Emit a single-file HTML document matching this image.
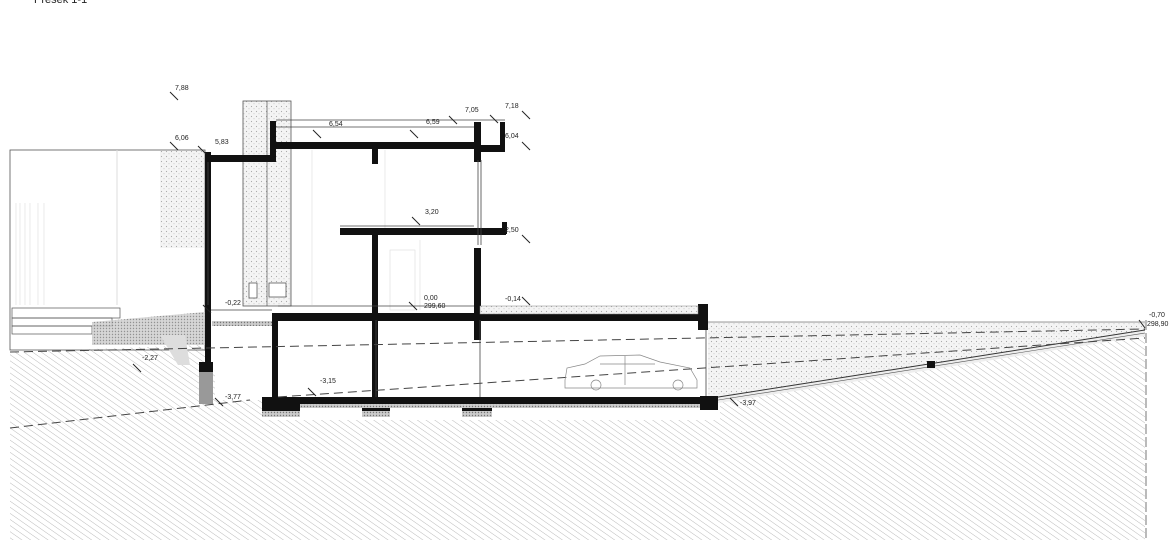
<!DOCTYPE html>
<html><head><meta charset="utf-8"><style>
html,body{margin:0;padding:0;background:#fff;}
svg{display:block;font-family:"Liberation Sans",sans-serif;}
text{font-size:7px;fill:#222;}
</style></head><body>
<svg width="1170" height="540" viewBox="0 0 1170 540" xmlns="http://www.w3.org/2000/svg">
<defs>
<pattern id="h" width="5" height="5" patternUnits="userSpaceOnUse" patternTransform="rotate(-55)">
<line x1="0" y1="0" x2="0" y2="5" stroke="#aaa" stroke-width="0.8"/>
</pattern>
<pattern id="d" width="5" height="5" patternUnits="userSpaceOnUse">
<rect width="5" height="5" fill="#f4f4f4"/>
<circle cx="1.5" cy="1.5" r="0.6" fill="#aaa"/><circle cx="4" cy="3.8" r="0.5" fill="#bbb"/>
</pattern>
<pattern id="g" width="3" height="3" patternUnits="userSpaceOnUse">
<rect width="3" height="3" fill="#ccc"/><circle cx="1.5" cy="1.5" r="0.7" fill="#777"/>
</pattern>
</defs>
<text x="34" y="3" style="font-size:11px">Presek 1-1</text>

<!-- ground hatch -->
<polygon points="10,352 205,345 205,370 215,370 215,400 262,400 262,420 720,420 720,400 1145,330 1145,540 10,540" fill="url(#h)"/>
<!-- fill in front of garage -->
<polygon points="708,322 1145,322 1145,332 712,398 708,398" fill="url(#d)"/>
<polygon points="712,398 1145,330 1145,336 712,404" fill="#eee"/>
<line x1="712" y1="398" x2="1145" y2="330" stroke="#333" stroke-width="1"/>
<line x1="712" y1="401" x2="1145" y2="333" stroke="#555" stroke-width="0.6"/>
<line x1="708" y1="322" x2="1145" y2="322" stroke="#777" stroke-width="0.8"/>
<rect x="927" y="361" width="8" height="7" fill="#111"/>

<!-- left site -->
<rect x="10" y="150" width="195" height="200" fill="none" stroke="#555" stroke-width="0.8"/>
<rect x="160" y="151" width="44" height="97" fill="url(#d)"/>
<line x1="117" y1="150" x2="117" y2="305" stroke="#ddd"/>
<g stroke="#ddd" stroke-width="0.6"><line x1="16" y1="203" x2="16" y2="305"/><line x1="20" y1="203" x2="20" y2="305"/><line x1="25" y1="203" x2="25" y2="305"/><line x1="30" y1="203" x2="30" y2="305"/><line x1="38" y1="203" x2="38" y2="305"/><line x1="44" y1="203" x2="44" y2="305"/></g>
<g fill="none" stroke="#555" stroke-width="0.7">
<rect x="12" y="308" width="108" height="10"/><rect x="12" y="318" width="100" height="8"/><rect x="12" y="326" width="80" height="8"/>
</g>
<polygon points="92,322 205,312 205,345 92,345" fill="url(#g)" opacity="0.8"/>
<polygon points="160,335 185,335 190,365 178,365" fill="#ddd"/>
<rect x="199" y="362" width="14" height="10" fill="#111"/>
<rect x="199" y="372" width="14" height="32" fill="#999"/>

<!-- chimney -->
<rect x="243" y="101" width="48" height="205" fill="url(#d)" stroke="#555" stroke-width="0.8"/>
<line x1="267" y1="101" x2="267" y2="306" stroke="#555" stroke-width="0.7"/>
<rect x="249" y="283" width="8" height="15" fill="#fff" stroke="#444" stroke-width="0.7"/>
<rect x="269" y="283" width="17" height="14" fill="#fff" stroke="#444" stroke-width="0.7"/>

<!-- interior light lines -->
<g stroke="#ddd" stroke-width="0.6" fill="none">
<line x1="290" y1="160" x2="290" y2="305"/><line x1="312" y1="150" x2="312" y2="305"/><line x1="420" y1="240" x2="420" y2="310"/>
<line x1="385" y1="150" x2="385" y2="228"/><rect x="390" y="250" width="25" height="60"/>
</g>

<!-- structure black -->
<g fill="#111">
<rect x="205" y="152" width="6" height="218"/>
<rect x="205" y="155" width="70" height="7"/>
<rect x="270" y="121" width="6" height="41"/>
<rect x="276" y="142" width="202" height="7"/>
<rect x="372" y="148" width="6" height="16"/>
<rect x="474" y="122" width="7" height="40"/>
<rect x="500" y="122" width="5" height="30"/>
<rect x="474" y="145" width="31" height="7"/>
<rect x="340" y="228" width="166" height="7"/>
<rect x="502" y="222" width="5" height="12"/>
<rect x="372" y="234" width="6" height="166"/>
<rect x="474" y="248" width="7" height="92"/>
<rect x="272" y="313" width="436" height="8"/>
<rect x="272" y="313" width="6" height="90"/>
<rect x="698" y="304" width="10" height="26"/>
<rect x="262" y="397" width="440" height="7"/>
<rect x="262" y="397" width="38" height="14"/>
<rect x="362" y="397" width="28" height="14"/>
<rect x="462" y="397" width="30" height="14"/>
<rect x="700" y="396" width="18" height="14"/>
</g>
<rect x="262" y="411" width="38" height="6" fill="url(#g)"/>
<rect x="362" y="411" width="28" height="6" fill="url(#g)"/>
<rect x="462" y="411" width="30" height="6" fill="url(#g)"/>
<rect x="300" y="404" width="400" height="4" fill="url(#g)"/>
<rect x="212" y="321" width="60" height="5" fill="url(#g)"/>
<rect x="480" y="306" width="218" height="8" fill="url(#d)" stroke="#888" stroke-width="0.5"/>
<g stroke="#444" stroke-width="0.8" fill="none">
<line x1="276" y1="120" x2="505" y2="120"/><line x1="276" y1="127" x2="474" y2="127"/>
<line x1="211" y1="310" x2="272" y2="310"/><line x1="278" y1="306" x2="474" y2="306"/>
<line x1="340" y1="226" x2="474" y2="226"/>
<line x1="478" y1="160" x2="478" y2="245"/><line x1="481" y1="160" x2="481" y2="245"/>
<line x1="208" y1="162" x2="208" y2="305"/>
<line x1="706" y1="330" x2="706" y2="396"/>
<line x1="376" y1="320" x2="376" y2="397"/><line x1="480" y1="320" x2="480" y2="397"/>
</g>

<!-- dashed lines -->
<g stroke="#444" stroke-width="1" stroke-dasharray="9,5" fill="none">
<line x1="10" y1="352" x2="1145" y2="329"/>
<line x1="10" y1="428" x2="250" y2="400"/>
<line x1="278" y1="397" x2="1145" y2="338"/>
</g>
<line x1="1146" y1="320" x2="1146" y2="540" stroke="#555" stroke-dasharray="10,3" stroke-width="0.8"/>

<!-- car -->
<g stroke="#888" stroke-width="0.7" fill="none">
<path d="M565,380 L567,368 L585,364 L600,356 L640,355 L660,362 L690,368 L697,380 L697,388 L565,388 Z"/>
<circle cx="596" cy="385" r="5"/><circle cx="678" cy="385" r="5"/>
<line x1="600" y1="364" x2="655" y2="364"/><line x1="625" y1="356" x2="625" y2="385"/>
</g>

<!-- level marks -->
<g stroke="#222" stroke-width="1">
<line x1="170" y1="92" x2="178" y2="100"/><line x1="170" y1="142" x2="178" y2="150"/>
<line x1="198" y1="146" x2="206" y2="154"/><line x1="313" y1="130" x2="321" y2="138"/>
<line x1="410" y1="130" x2="418" y2="138"/><line x1="449" y1="116" x2="457" y2="124"/>
<line x1="490" y1="115" x2="498" y2="123"/><line x1="522" y1="111" x2="530" y2="119"/>
<line x1="522" y1="142" x2="530" y2="150"/><line x1="412" y1="217" x2="420" y2="225"/>
<line x1="522" y1="235" x2="530" y2="243"/><line x1="203" y1="305" x2="211" y2="313"/>
<line x1="409" y1="302" x2="417" y2="310"/><line x1="522" y1="297" x2="530" y2="305"/>
<line x1="133" y1="364" x2="141" y2="372"/><line x1="308" y1="388" x2="316" y2="396"/>
<line x1="215" y1="398" x2="223" y2="406"/><line x1="730" y1="398" x2="738" y2="406"/>
<line x1="1139" y1="320" x2="1145" y2="328"/>
</g>
<text x="175" y="90">7,88</text><text x="175" y="140">6,06</text><text x="215" y="144">5,83</text>
<text x="329" y="126">6,54</text><text x="426" y="124">6,59</text><text x="465" y="112">7,05</text>
<text x="505" y="108">7,18</text><text x="505" y="138">6,04</text><text x="425" y="214">3,20</text>
<text x="505" y="232">2,50</text><text x="225" y="305">-0,22</text><text x="424" y="300">0,00</text>
<text x="424" y="308">299,60</text><text x="505" y="301">-0,14</text><text x="142" y="360">-2,27</text>
<text x="320" y="383">-3,15</text><text x="225" y="399">-3,77</text><text x="740" y="405">-3,97</text>
<text x="1149" y="317">-0,70</text><text x="1147" y="326">298,90</text>
</svg>
</body></html>
